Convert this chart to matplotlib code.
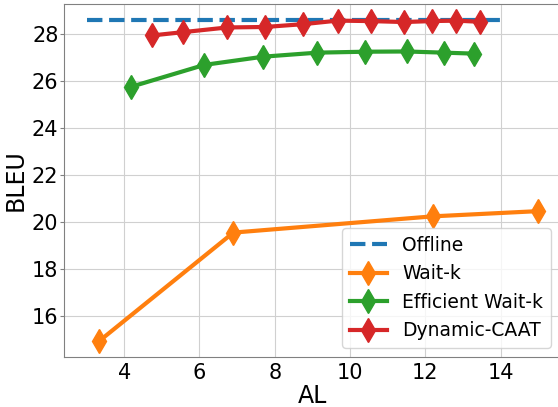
import matplotlib
matplotlib.use("Agg")
import matplotlib.pyplot as plt

offline_x = [3, 14]
offline_y = [28.58, 28.58]

waitk_x = [3.34, 6.9, 12.2, 14.98]
waitk_y = [14.96, 19.56, 20.25, 20.47]

eff_x = [4.18, 6.13, 7.7, 9.13, 10.4, 11.5, 12.49, 13.28]
eff_y = [25.75, 26.68, 27.03, 27.2, 27.24, 27.25, 27.2, 27.16]

caat_x = [4.74, 5.56, 6.74, 7.74, 8.76, 9.67, 10.55, 11.43, 12.17, 12.82, 13.45]
caat_y = [27.93, 28.07, 28.27, 28.29, 28.41, 28.56, 28.54, 28.5, 28.54, 28.56, 28.51]

fig = plt.figure(figsize=(5.58, 4.07), dpi=100)
ax = fig.add_axes([0.1147, 0.1229, 0.889, 0.867])

ax.plot(offline_x, offline_y, '--', color='tab:blue', linewidth=3, label='Offline')
ax.plot(waitk_x, waitk_y, marker='d', color='tab:orange', linewidth=3, markersize=12, label='Wait-k')
ax.plot(eff_x, eff_y, marker='d', color='tab:green', linewidth=3, markersize=12, label='Efficient Wait-k')
ax.plot(caat_x, caat_y, marker='d', color='tab:red', linewidth=3, markersize=12, label='Dynamic-CAAT')

ax.grid(True, color='#d0d0d0')
ax.set_axisbelow(True)
for s in ax.spines.values():
    s.set_color('#808080')
ax.tick_params(labelsize=15, color='#808080')
ax.tick_params(axis='x', length=0, pad=4)
ax.tick_params(axis='y', length=3, pad=1)
ax.set_xlabel('AL', fontsize=17, labelpad=1)
ax.set_ylabel('BLEU', fontsize=17, labelpad=3)
ax.set_xticks([4, 6, 8, 10, 12, 14])
ax.set_yticks([16, 18, 20, 22, 24, 26, 28])
ax.legend(loc='lower right', fontsize=13.5)

fig.savefig('out.png', dpi=100)
